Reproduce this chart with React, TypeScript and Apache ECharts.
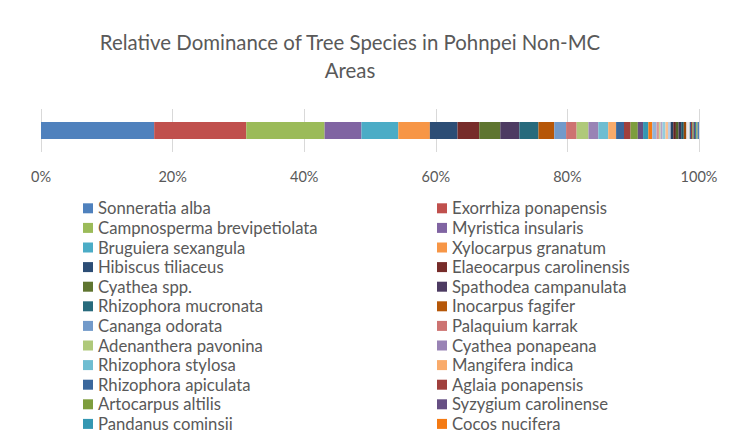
import React, { useEffect, useRef } from "react";
import * as echarts from "echarts";

const titleLines = ["Relative Dominance of Tree Species in Pohnpei Non-MC", "Areas"];

const legendSpecies = [
  "Sonneratia alba", "Exorrhiza ponapensis", "Campnosperma brevipetiolata", "Myristica insularis",
  "Bruguiera sexangula", "Xylocarpus granatum", "Hibiscus tiliaceus", "Elaeocarpus carolinensis",
  "Cyathea spp.", "Spathodea campanulata", "Rhizophora mucronata", "Inocarpus fagifer",
  "Cananga odorata", "Palaquium karrak", "Adenanthera pavonina", "Cyathea ponapeana",
  "Rhizophora stylosa", "Mangifera indica", "Rhizophora apiculata", "Aglaia ponapensis",
  "Artocarpus altilis", "Syzygium carolinense", "Pandanus cominsii", "Cocos nucifera",
];

const legendValues = [
  17.2, 14.0, 11.9, 5.6, 5.6, 4.8, 4.2, 3.3, 3.2, 2.9, 2.9, 2.4,
  1.8, 1.6, 1.8, 1.5, 1.5, 1.2, 1.2, 1.0, 1.1, 0.8, 0.8, 0.6,
];

// remaining minor species (not listed in the legend)
const minorValues = [
  0.65, 0.36, 0.25, 0.30, 0.45, 0.38, 0.40,
  0.40, 0.40, 0.40, 0.40, 0.40, 0.40,
  0.17, 0.17, 0.16,
  0.20, 0.20, 0.20, 0.20, 0.20, 0.20, 0.21,
];
const minorNames = minorValues.map((_, i) => "Species " + (i + 25));

const colors = [
  "#4F81BD", "#C0504D", "#9BBB59", "#8064A2", "#4BACC6", "#F79646",
  "#2C4D75", "#772C2A", "#5F7530", "#4D3B62", "#276A7C", "#B65708",
  "#729ACA", "#CD7371", "#AFC97A", "#9983B5", "#6FBDD1", "#F9AB6B",
  "#3A679C", "#A0403D", "#7D9D3D", "#664F83", "#3497B2", "#F47A13",
  "#95B3D7", "#D99694", "#C3D69B", "#B3A2C7", "#93CDDD", "#FAC090", "#B9CDE5",
  "#254061", "#632523", "#4F6228", "#403152", "#215968", "#984807",
  "#DCE6F2", "#F2DCDB", "#EBF1DE",
  "#376092", "#953735", "#77933C", "#604A7B", "#31859C", "#8EA04A",
];

const tickValues = [0, 20, 40, 60, 80, 100];

export default function App() {
  const ref = useRef<HTMLDivElement>(null);
  useEffect(() => {
    document.body.style.margin = "0";
    const chart = echarts.init(ref.current!, null, { renderer: "svg" });
    const names = [...legendSpecies, ...minorNames];
    const values = [...legendValues, ...minorValues];
    const font = "Lato, 'Open Sans', sans-serif";
    const leftNames = legendSpecies.filter((_, i) => i % 2 === 0);
    const rightNames = legendSpecies.filter((_, i) => i % 2 === 1);
    const legendCommon = {
      orient: "vertical" as const,
      top: 198.5,
      padding: 0,
      itemWidth: 10,
      itemHeight: 10,
      itemGap: 0,
      icon: "rect",
      selectedMode: false,
      textStyle: { color: "#595959", fontSize: 16.7, fontFamily: font, lineHeight: 19.6, height: 19.6 },
    };
    chart.setOption({
      animation: false,
      graphic: titleLines.map((t, i) => ({
        type: "text",
        x: 350,
        y: 42 + i * 28,
        style: {
          text: t,
          fill: "#595959",
          font: `20.4px ${font}`,
          textAlign: "center",
          textVerticalAlign: "middle",
        },
      })),
      legend: [
        { ...legendCommon, left: 83, data: leftNames },
        { ...legendCommon, left: 437, data: rightNames },
      ],
      grid: { left: 41, right: 42, top: 109, height: 43 },
      xAxis: {
        type: "value",
        min: 0,
        max: 100,
        interval: 20,
        axisLine: { show: false },
        axisTick: { show: false },
        splitLine: { lineStyle: { color: "#D9D9D9", width: 1 } },
        axisLabel: {
          formatter: (v: number) => (tickValues.includes(v) ? v + "%" : ""),
          color: "#595959",
          fontSize: 14.5,
          fontFamily: font,
          margin: 17,
        },
      },
      yAxis: { type: "category", data: [""], show: false },
      series: names.map((n, i) => ({
        name: n,
        type: "bar",
        stack: "total",
        barWidth: 17,
        data: [values[i]],
        itemStyle: { color: colors[i % colors.length] },
      })),
    });
    return () => chart.dispose();
  }, []);
  return <div ref={ref} style={{ width: 741, height: 448 }} />;
}
